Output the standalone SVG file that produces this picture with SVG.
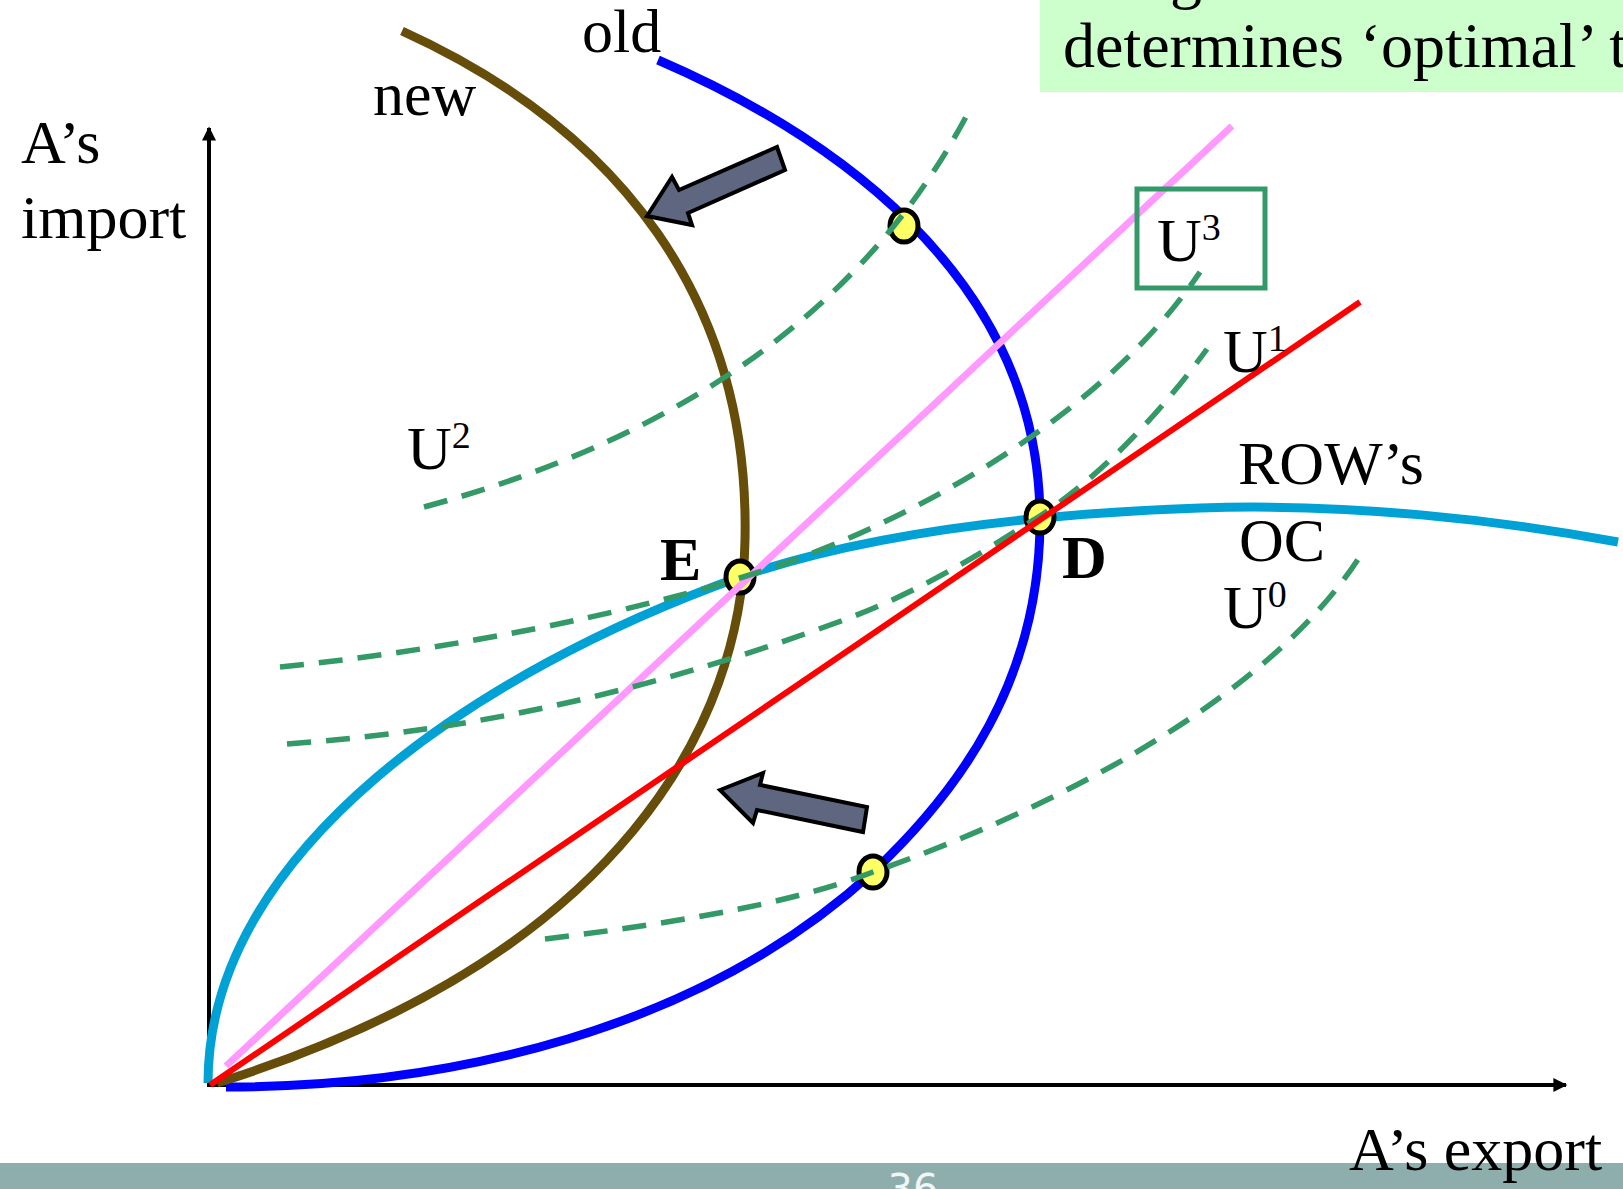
<svg xmlns="http://www.w3.org/2000/svg" width="1623" height="1189" viewBox="0 0 1623 1189">
<defs>
<style>
.t{font-family:"Liberation Serif","Times New Roman",serif;font-size:62px;fill:#000}
.b{font-weight:bold}
.sup{font-size:38px}
.crv{fill:none;stroke-linecap:butt}
.dash{fill:none;stroke:#339966;stroke-width:5.5;stroke-dasharray:24 15}
.dot{fill:#FFFF66;stroke:#000;stroke-width:5}
.arr{fill:#5F6780;stroke:#000;stroke-width:4;stroke-linejoin:miter}
.ax{stroke:#000;stroke-width:4;fill:none}
</style>
<marker id="ah" viewBox="0 0 10 10" refX="9" refY="5" markerWidth="18" markerHeight="14" markerUnits="userSpaceOnUse" orient="auto">
<path d="M0,0 L10,5 L0,10 z" fill="#000"/>
</marker>
</defs>
<rect width="1623" height="1189" fill="#fff"/>

<g id="title-box">
<rect x="1040" y="0" width="583" height="92" fill="#CCFFCC"/>
<text class="t" x="1170" y="-4" style="font-size:64px">g</text>
<text class="t" x="1063" y="67" style="font-size:64px">determines ‘optimal’ t</text>
</g>

<g id="footer">
<rect x="0" y="1163" width="1623" height="26" fill="#8EAEAE"/>
<text x="913" y="1203" font-family="'DejaVu Sans',sans-serif" font-size="40" fill="#F0F5F5" text-anchor="middle">36</text>
</g>

<g id="axes">
<line class="ax" x1="209" y1="1086" x2="209" y2="128" marker-end="url(#ah)"/>
<line class="ax" x1="207" y1="1085" x2="1566" y2="1085" marker-end="url(#ah)"/>
</g>

<g id="connectors">
<path id="row-oc" class="crv" stroke="#00A2D6" stroke-width="9" d="M208,1083 C208,850 480,670 740,577 C850,539 1000,515 1200,508 C1350,503 1500,520 1618,542"/>
<path id="old-oc" class="crv" stroke="#0000FF" stroke-width="9" d="M658,60 C820,130 1040,270 1040,520 C1040,680 960,790 873,872 C700,1030 450,1087 226,1087"/>
<path id="new-oc" class="crv" stroke="#664D0A" stroke-width="9" d="M402,31 C620,130 750,300 745,540 C742,720 625,955 217,1083"/>
</g>

<g id="points">
<ellipse id="pt-top" class="dot" cx="904" cy="226" rx="14" ry="16"/>
<ellipse id="pt-E" class="dot" cx="740" cy="577" rx="14" ry="16"/>
<ellipse id="pt-D" class="dot" cx="1040" cy="517" rx="14" ry="16"/>
<ellipse id="pt-low" class="dot" cx="873" cy="872" rx="14" ry="16"/>
</g>

<g id="rays">
<line id="pink-ray" x1="226" y1="1066" x2="1232" y2="126" stroke="#FF99FF" stroke-width="7"/>
</g>

<g id="indifference">
<path id="U2" class="dash" d="M424,507 Q820,400 970,109"/>
<path id="U3" class="dash" d="M280,667 C450,650 620,615 740,578 C900,530 1100,420 1200,272"/>
<path id="U1" class="dash" d="M287,744 C480,730 650,690 830,625 C930,590 1000,540 1040,516 C1110,470 1170,400 1207,349"/>
<path id="U0" class="dash" d="M545,939 C700,920 800,900 873,872 C1050,810 1270,700 1362,553"/>
</g>

<g id="red-ray-g">
<line id="red-ray" x1="210" y1="1085" x2="1360" y2="302" stroke="#FF0000" stroke-width="6"/>
</g>

<g id="arrows">
<polygon id="arrow-upper" class="arr" points="647,216 672,177 679,190 777,147 785,170 688,213 692,225"/>
<polygon id="arrow-lower" class="arr" points="720,790 763,773 760,785 867,807 863,832 757,810 753,823"/>
</g>

<g id="u3-box">
<rect x="1137" y="189" width="128" height="99" fill="none" stroke="#339966" stroke-width="5"/>
</g>

<g id="labels">
<text class="t" x="21" y="163">A’s</text>
<text class="t" x="21" y="238">import</text>
<text class="t" x="1349" y="1170">A’s export</text>
<text class="t" x="582" y="52">old</text>
<text class="t" x="373" y="115">new</text>
<text class="t" x="407" y="469">U<tspan class="sup" dy="-21">2</tspan></text>
<text class="t" x="1157" y="261">U<tspan class="sup" dy="-21">3</tspan></text>
<text class="t" x="1223" y="372">U<tspan class="sup" dy="-21">1</tspan></text>
<text class="t" x="1223" y="628">U<tspan class="sup" dy="-21">0</tspan></text>
<text class="t" x="1238" y="484">ROW’s</text>
<text class="t" x="1239" y="561">OC</text>
<text class="t b" x="660" y="580">E</text>
<text class="t b" x="1062" y="578">D</text>
</g>
</svg>
